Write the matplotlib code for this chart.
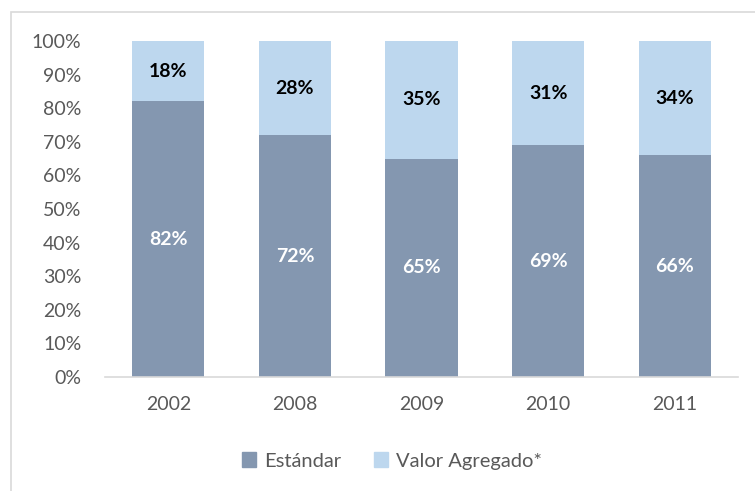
import matplotlib
matplotlib.use("Agg")
import matplotlib.pyplot as plt
from matplotlib.patches import Rectangle, Patch

years = ["2002", "2008", "2009", "2010", "2011"]
estandar = [82, 72, 65, 69, 66]
valor_agregado = [18, 28, 35, 31, 34]
series_names = ["Estándar", "Valor Agregado*"]
yticks = [0, 10, 20, 30, 40, 50, 60, 70, 80, 90, 100]

c_dark = "#8497B0"
c_light = "#BDD7EE"
gray_txt = "#595959"

plt.rcParams['font.family'] = ['Lato', 'DejaVu Sans']

W, H = 755, 491
fig = plt.figure(figsize=(W/100, H/100), dpi=100)
ax = fig.add_axes([105/W, 1 - 377/H, (738-105)/W, (377-41)/H])

x = list(range(len(years)))
bw = 0.57
ax.bar(x, estandar, width=bw, color=c_dark, zorder=2)
ax.bar(x, valor_agregado, width=bw, bottom=estandar, color=c_light, zorder=2)

fs = 14
for i in x:
    ax.text(i, estandar[i] / 2, f"{estandar[i]}%", ha='center', va='center',
            color='white', fontsize=fs, fontweight='bold')
    ax.text(i, estandar[i] + valor_agregado[i] / 2, f"{valor_agregado[i]}%",
            ha='center', va='center', color='black', fontsize=fs, fontweight='bold')

ax.set_xlim(-0.5, len(years) - 0.5)
ax.set_ylim(0, 100)
ax.set_yticks(yticks)
ax.set_yticklabels([f"{v}%" for v in yticks])
ax.set_xticks(x)
ax.set_xticklabels(years)
ax.tick_params(axis='both', length=0, labelsize=fs, colors=gray_txt)
ax.tick_params(axis='y', pad=17)
ax.tick_params(axis='x', pad=14)
for s in ['top', 'right', 'left']:
    ax.spines[s].set_visible(False)
ax.spines['bottom'].set_color('#D9D9D9')
ax.spines['bottom'].set_linewidth(1.2)

handles = [Patch(color=c_dark), Patch(color=c_light)]
fig.legend(handles, series_names, loc='center', bbox_to_anchor=(392/W, 1 - 461/H),
           ncol=2, frameon=False, fontsize=14.5, labelcolor=gray_txt,
           handlelength=0.7, handleheight=0.7, handletextpad=0.4, columnspacing=1.6)

fig.patches.append(Rectangle((11/W, -0.1), 1.2, 1 - 12/H + 0.1, transform=fig.transFigure,
                             fill=False, edgecolor='#D9D9D9', linewidth=1.2))

fig.savefig("out.png", dpi=100)
